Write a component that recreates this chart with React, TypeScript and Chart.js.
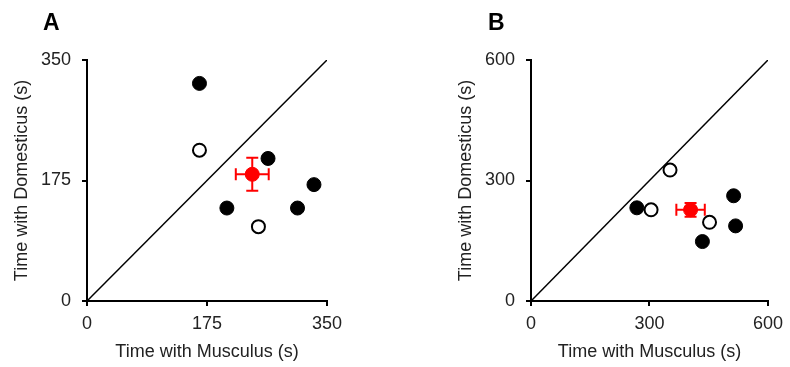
import React, { useEffect, useRef } from "react";
import { Chart, registerables } from "chart.js";
Chart.register(...registerables);

const FONT = "'Liberation Sans', Arial, Helvetica, sans-serif";

// Panel A (seconds)
const A_ticks = [0, 175, 350];
const A_filledX = [164, 264, 331, 204, 307];
const A_filledY = [316, 207, 169, 135, 135];
const A_openX = [164, 250];
const A_openY = [219, 108];
const A_meanX = [241];
const A_meanY = [184];
const A_errX = [24];
const A_errY = [24];

// Panel B (seconds)
const B_ticks = [0, 300, 600];
const B_filledX = [268, 513, 518, 434];
const B_filledY = [232, 262, 187, 148];
const B_openX = [304, 352, 452];
const B_openY = [227, 326, 196];
const B_meanX = [404];
const B_meanY = [227];
const B_errX = [36];
const B_errY = [17];

const X_TITLE = "Time with Musculus (s)";
const Y_TITLE = "Time with Domesticus (s)";

type Panel = {
  letter: string;
  letterX: number;
  ticks: number[];
  filledX: number[];
  filledY: number[];
  openX: number[];
  openY: number[];
  meanX: number[];
  meanY: number[];
  errX: number[];
  errY: number[];
  padLeft: number;
  padRight: number;
};

const zip = (xs: number[], ys: number[]) => xs.map((x, i) => ({ x, y: ys[i] }));

function buildConfig(p: Panel): any {
  const max = p.ticks[p.ticks.length - 1];
  const errorBars = {
    id: "errorBars",
    afterDatasetsDraw(chart: any) {
      const ctx = chart.ctx;
      const xs = chart.scales.x;
      const ys = chart.scales.y;
      ctx.save();
      ctx.strokeStyle = "#ff0000";
      ctx.lineWidth = 2;
      const cap = 6;
      p.meanX.forEach((mx, i) => {
        const my = p.meanY[i];
        const cx = xs.getPixelForValue(mx);
        const cy = ys.getPixelForValue(my);
        const x1 = xs.getPixelForValue(mx - p.errX[i]);
        const x2 = xs.getPixelForValue(mx + p.errX[i]);
        const y1 = ys.getPixelForValue(my - p.errY[i]);
        const y2 = ys.getPixelForValue(my + p.errY[i]);
        ctx.beginPath();
        ctx.moveTo(x1, cy); ctx.lineTo(x2, cy);
        ctx.moveTo(x1, cy - cap); ctx.lineTo(x1, cy + cap);
        ctx.moveTo(x2, cy - cap); ctx.lineTo(x2, cy + cap);
        ctx.moveTo(cx, y1); ctx.lineTo(cx, y2);
        ctx.moveTo(cx - cap, y1); ctx.lineTo(cx + cap, y1);
        ctx.moveTo(cx - cap, y2); ctx.lineTo(cx + cap, y2);
        ctx.stroke();
      });
      ctx.restore();
    },
  };
  const letterPlugin = {
    id: "panelLetter",
    afterDraw(chart: any) {
      const ctx = chart.ctx;
      ctx.save();
      ctx.fillStyle = "#000";
      ctx.font = `bold 23px ${FONT}`;
      ctx.textBaseline = "alphabetic";
      ctx.fillText(p.letter, p.letterX, 30);
      ctx.restore();
    },
  };
  const tickFont = { family: FONT, size: 18 };
  return {
    type: "scatter",
    data: {
      datasets: [
        {
          type: "line",
          data: [
            { x: 0, y: 0 },
            { x: max, y: max },
          ],
          borderColor: "#000",
          borderWidth: 1.5,
          pointRadius: 0,
          fill: false,
        },
        {
          data: zip(p.filledX, p.filledY),
          backgroundColor: "#000",
          borderColor: "#000",
          borderWidth: 1,
          pointRadius: 7,
        },
        {
          data: zip(p.openX, p.openY),
          backgroundColor: "#fff",
          borderColor: "#000",
          borderWidth: 2,
          pointRadius: 6.5,
        },
        {
          data: zip(p.meanX, p.meanY),
          backgroundColor: "#ff0000",
          borderColor: "#ff0000",
          borderWidth: 1,
          pointRadius: 7,
        },
      ],
    },
    options: {
      responsive: false,
      animation: false,
      events: [],
      layout: { padding: { left: p.padLeft, right: p.padRight, top: 60, bottom: 0 } },
      plugins: { legend: { display: false }, tooltip: { enabled: false } },
      scales: {
        x: {
          type: "linear",
          min: 0,
          max,
          afterBuildTicks(scale: any) {
            scale.ticks = p.ticks.map((v) => ({ value: v }));
          },
          afterFit(scale: any) {
            scale.height = 66;
          },
          grid: { display: true, drawOnChartArea: false, drawTicks: true, tickLength: 5, color: "#000", lineWidth: 2 },
          border: { display: true, color: "#000", width: 2 },
          ticks: { color: "#222", font: tickFont, padding: 7, maxRotation: 0 },
          title: { display: true, text: X_TITLE, color: "#222", font: tickFont, padding: { top: 0, bottom: 4 } },
        },
        y: {
          type: "linear",
          min: 0,
          max,
          afterBuildTicks(scale: any) {
            scale.ticks = p.ticks.map((v) => ({ value: v }));
          },
          afterFit(scale: any) {
            scale.width = 87;
          },
          grid: { display: true, drawOnChartArea: false, drawTicks: true, tickLength: 5, color: "#000", lineWidth: 2 },
          border: { display: true, color: "#000", width: 2 },
          ticks: { color: "#222", font: tickFont, padding: 11 },
          title: { display: true, text: Y_TITLE, color: "#222", font: tickFont, padding: { top: 11, bottom: 0 } },
        },
      },
    },
    plugins: [errorBars, letterPlugin],
  };
}

const panelA: Panel = {
  letter: "A", letterX: 43, ticks: A_ticks,
  filledX: A_filledX, filledY: A_filledY, openX: A_openX, openY: A_openY,
  meanX: A_meanX, meanY: A_meanY, errX: A_errX, errY: A_errY,
  padLeft: 0, padRight: 68,
};
const panelB: Panel = {
  letter: "B", letterX: 93, ticks: B_ticks,
  filledX: B_filledX, filledY: B_filledY, openX: B_openX, openY: B_openY,
  meanX: B_meanX, meanY: B_meanY, errX: B_errX, errY: B_errY,
  padLeft: 49, padRight: 19,
};

function ChartPanel({ panel, left }: { panel: Panel; left: number }) {
  const ref = useRef<HTMLCanvasElement | null>(null);
  useEffect(() => {
    if (!ref.current) return;
    const chart = new Chart(ref.current, buildConfig(panel));
    return () => chart.destroy();
  }, [panel]);
  return (
    <canvas
      ref={ref}
      width={395}
      height={367}
      style={{ position: "absolute", left, top: 0, width: 395, height: 367 }}
    />
  );
}

export default function App() {
  return (
    <div style={{ position: "absolute", left: 0, top: 0, width: 790, height: 367, background: "#fff" }}>
      <ChartPanel panel={panelA} left={0} />
      <ChartPanel panel={panelB} left={395} />
    </div>
  );
}
